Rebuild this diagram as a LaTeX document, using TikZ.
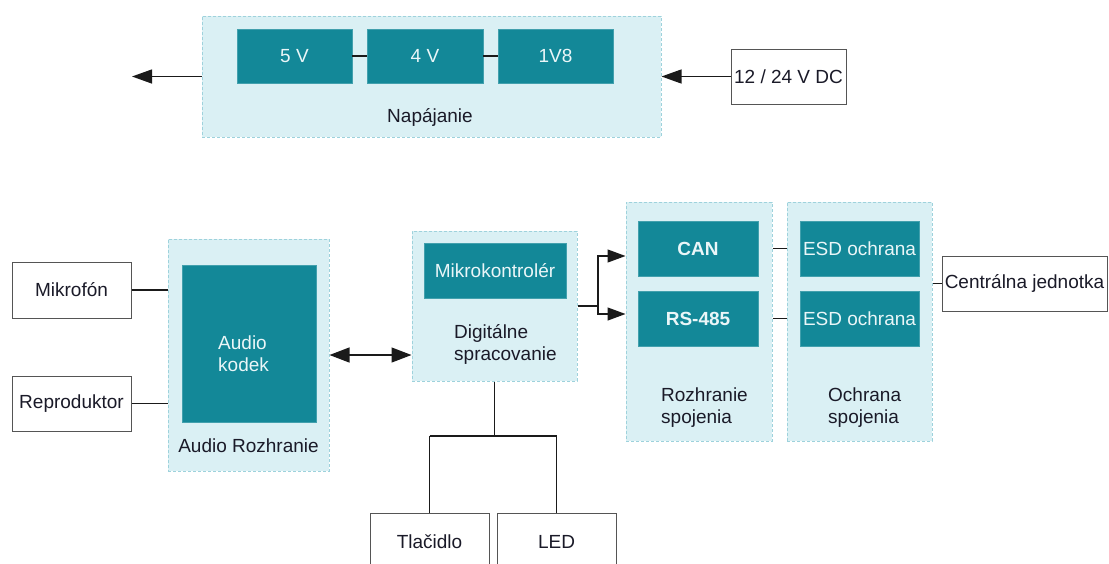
\documentclass[tikz,border=0pt]{standalone}
\usepackage{fontspec}
\setmainfont{Liberation Sans}
\usetikzlibrary{arrows.meta}
\definecolor{contF}{HTML}{DAF0F4}
\definecolor{contB}{HTML}{9ED2DC}
\definecolor{tealF}{HTML}{138898}
\definecolor{tealT}{HTML}{EAF6F8}
\definecolor{txt}{HTML}{1A1A28}
\definecolor{wbord}{HTML}{555555}
\definecolor{lineC}{HTML}{1A1A1A}
\tikzset{
  container/.style={draw=contB, fill=contF, line width=1pt, dash pattern=on 3pt off 2pt, inner sep=0pt, rectangle},
  tbox/.style={fill=tealF, draw=tealF!80!white, line width=0.6pt, text=tealT, inner sep=0pt, font=\fontsize{19}{22}\selectfont},
  wbox/.style={draw=wbord, fill=white, line width=1pt, text=txt, inner sep=0pt, font=\fontsize{19}{22}\selectfont},
  lbl/.style={text=txt, inner sep=0pt, font=\fontsize{19}{22}\selectfont},
  conn/.style={draw=lineC, line width=1.3pt},
  arr/.style={conn, -{Triangle[length=20pt,width=14pt]}},
  arrs/.style={conn, -{Triangle[length=18pt,width=13pt]}},
  barr/.style={conn, {Triangle[length=20pt,width=15pt]}-{Triangle[length=20pt,width=15pt]}},
}
\begin{document}
\begin{tikzpicture}[x=1pt,y=-1pt]
\path[use as bounding box] (0,0) rectangle (1109,563);
\clip (0,0) rectangle (1109,563);

% ---------- Power section ----------
\node[container, minimum width=459pt, minimum height=121pt] (napC) at (431.5,76.5) {};
\node[tbox, minimum width=115pt, minimum height=54pt] (v5) at (294.5,56) {5 V};
\node[tbox, minimum width=116pt, minimum height=54pt] (v4) at (425,56) {4 V};
\node[tbox, minimum width=115pt, minimum height=54pt] (v18) at (555.5,56) {1V8};
\node[lbl] (napL) at (430,117) {Napájanie};
\node[wbox, minimum width=115pt, minimum height=55pt] (dc) at (788.5,76.5) {12 / 24 V DC};
\coordinate (pout) at (132,76.5);
\draw[conn] (v5) -- (v4);
\draw[conn] (v4) -- (v18);
\draw[arr] (dc.west) -- (napC.east);
\draw[arr] (napC.west) -- (pout);

% ---------- Audio ----------
\node[wbox, minimum width=119pt, minimum height=56pt] (mic) at (71.5,290) {Mikrofón};
\node[wbox, minimum width=119pt, minimum height=55pt] (rep) at (71.5,403.5) {Reproduktor};
\node[container, minimum width=161pt, minimum height=232pt] (audC) at (248.5,355) {};
\node[tbox, minimum width=134pt, minimum height=157pt] (codec) at (249,343.5) {};
\node[lbl, text=tealT, anchor=west, align=left] (codecL) at (218,353.5) {Audio\\kodek};
\node[lbl] (audL) at (248.5,446) {Audio Rozhranie};
\draw[conn] (mic.east) -- (mic.east -| audC.west);
\draw[conn] (rep.east) -- (rep.east -| audC.west);

% ---------- Digital ----------
\node[container, minimum width=165pt, minimum height=150pt] (digC) at (494.5,306) {};
\node[tbox, minimum width=142pt, minimum height=55pt] (mcu) at (495,270.5) {Mikrokontrolér};
\node[lbl, anchor=west, align=left] (digL) at (454,344.5) {Digitálne\\spracovanie};
\draw[barr] (audC.east) -- (audC.east -| digC.west);

% ---------- Interfaces ----------
\node[container, minimum width=146pt, minimum height=239pt] (rozC) at (699,321.5) {};
\node[tbox, minimum width=120pt, minimum height=55pt, font=\fontsize{19}{22}\selectfont\bfseries] (can) at (698,248.5) {CAN};
\node[tbox, minimum width=120pt, minimum height=55pt, font=\fontsize{19}{22}\selectfont\bfseries] (rs) at (698,318.5) {RS-485};
\node[lbl, anchor=west, align=left] (rozL) at (661,408) {Rozhranie\\spojenia};

\node[container, minimum width=145pt, minimum height=239pt] (ochC) at (859.5,321.5) {};
\node[tbox, minimum width=119pt, minimum height=55pt] (esd1) at (859.5,248.5) {ESD ochrana};
\node[tbox, minimum width=119pt, minimum height=55pt] (esd2) at (859.5,318.5) {ESD ochrana};
\node[lbl, anchor=west, align=left] (ochL) at (828,408) {Ochrana\\spojenia};

\node[wbox, minimum width=165pt, minimum height=55pt] (cj) at (1024.5,283.5) {Centrálna jednotka};

\coordinate (split) at (598,306);
\draw[conn] (digC.east) -- (split);
\draw[arrs] (split) |- ([yshift=-7.5pt]can.west -| rozC.west);
\draw[arrs] (split) |- ([yshift=4.5pt]rs.west -| rozC.west);
\draw[conn] (can.east -| rozC.east) -- (can.east -| ochC.west);
\draw[conn] (rs.east -| rozC.east) -- (rs.east -| ochC.west);
\draw[conn] (cj.west -| ochC.east) -- (cj.west);

% ---------- Bottom I/O ----------
\node[wbox, minimum width=119pt, minimum height=58pt] (tl) at (429.5,542) {Tlačidlo};
\node[wbox, minimum width=119pt, minimum height=58pt] (led) at (556.5,542) {LED};
\coordinate (bj) at (494.5,436);
\draw[conn] (digC.south) -- (bj);
\draw[conn] (bj -| tl.north) -- (bj -| led.north);
\draw[conn] (bj -| tl.north) -- (tl.north);
\draw[conn] (bj -| led.north) -- (led.north);
\end{tikzpicture}
\end{document}
